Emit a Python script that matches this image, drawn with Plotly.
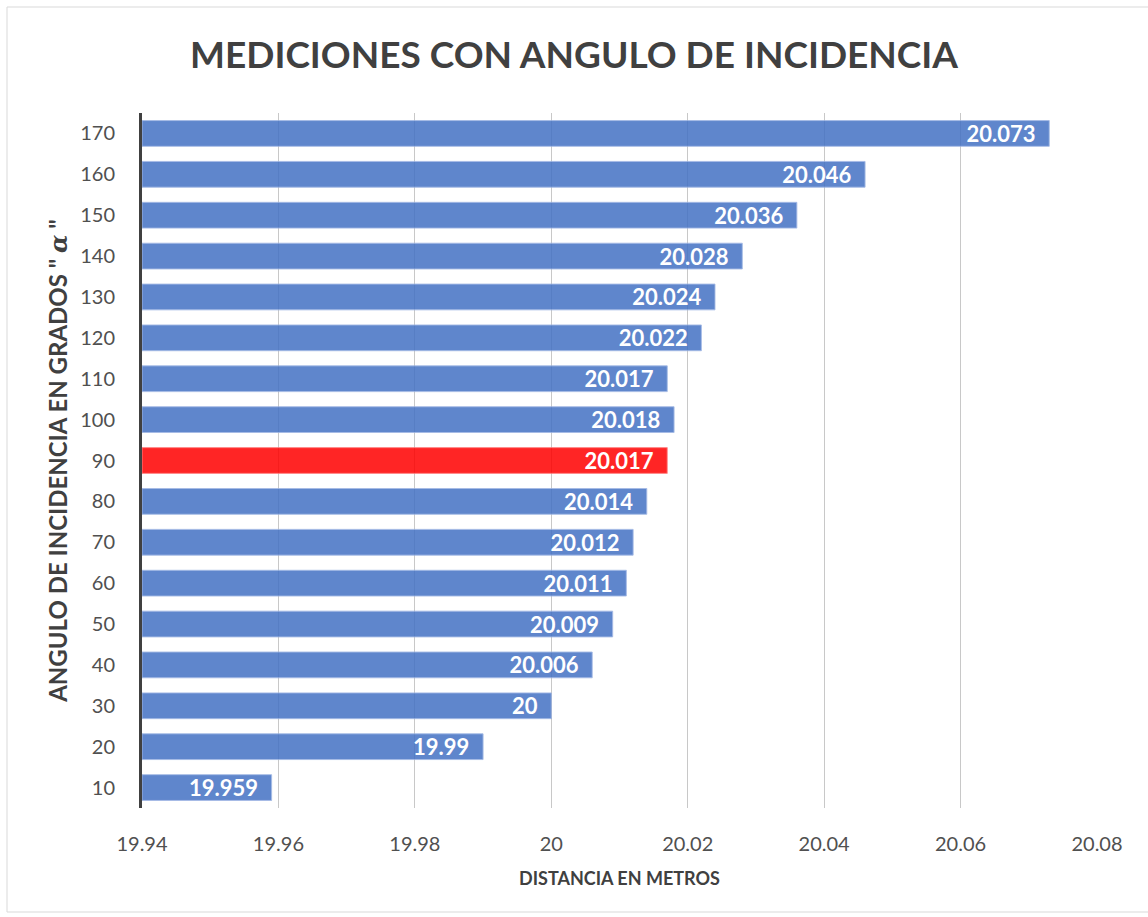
import plotly.graph_objects as go

angulos = [10, 20, 30, 40, 50, 60, 70, 80, 90, 100, 110, 120, 130, 140, 150, 160, 170]
distancias = [19.959, 19.99, 20, 20.006, 20.009, 20.011, 20.012, 20.014, 20.017,
              20.018, 20.017, 20.022, 20.024, 20.028, 20.036, 20.046, 20.073]
x_ticks = [19.94, 19.96, 19.98, 20, 20.02, 20.04, 20.06, 20.08]

FONT = "Lato, 'Open Sans', sans-serif"
azul = "#4472C4"
rojo = "#FF0000"
colores = [rojo if a == 90 else azul for a in angulos]
bordes = ["rgba(255,120,120,0.9)" if a == 90 else "rgba(150,175,225,0.9)" for a in angulos]

base = x_ticks[0]
fig = go.Figure(go.Bar(
    y=[str(a) for a in angulos],
    x=[d - base for d in distancias],
    base=base,
    orientation="h",
    marker=dict(color=colores, opacity=0.85, line=dict(color=bordes, width=1)),
    text=[f"{d:g}&nbsp;&nbsp;" for d in distancias],
    textposition="inside",
    insidetextanchor="end",
    textangle=0,
    constraintext="none",
    textfont=dict(family=FONT, size=22, color="white", weight="bold"),
    cliponaxis=False,
    hoverinfo="x+y",
))

fig.update_layout(
    width=1148, height=917,
    margin=dict(l=142, r=51, t=113, b=109),
    paper_bgcolor="white", plot_bgcolor="white",
    bargap=0.37,
    showlegend=False,
    font=dict(family=FONT, color="#595959"),
    title=dict(text="MEDICIONES CON ANGULO DE INCIDENCIA", x=0.5, xanchor="center",
               y=1 - 55 / 917, yref="container", yanchor="middle",
               font=dict(family=FONT, size=37, color="#404040", weight="bold")),
    xaxis=dict(range=[x_ticks[0], x_ticks[-1]], tickvals=x_ticks,
               ticktext=[f"{v:g}" for v in x_ticks],
               showgrid=True, gridcolor="#C8C8C8", gridwidth=1,
               zeroline=False, showline=False,
               ticks="", ticklabelstandoff=22, tickfont=dict(size=20, color="#505050"),
               title=dict(text="DISTANCIA EN METROS", standoff=18,
                          font=dict(family=FONT, size=18, color="#404040", weight="bold"))),
    yaxis=dict(categoryorder="array", categoryarray=[str(a) for a in angulos],
               showgrid=False, showline=True, linecolor="#404040", linewidth=3,
               ticks="", ticklabelstandoff=20, tickfont=dict(size=20, color="#505050"),
               title=dict(text="ANGULO DE INCIDENCIA EN GRADOS \" <i style='font-family:DejaVu Serif'>α</i> \"",
                          standoff=6,
                          font=dict(family=FONT, size=24, color="#404040", weight="bold"))),
    shapes=[dict(type="rect", xref="paper", yref="paper", x0=-135 / 955, x1=1043 / 955,
                 y0=-104 / 695, y1=(695 + 106) / 695,
                 line=dict(color="#D9D9D9", width=1), fillcolor="rgba(0,0,0,0)", layer="below")],
)

fig.write_html("out.html")
